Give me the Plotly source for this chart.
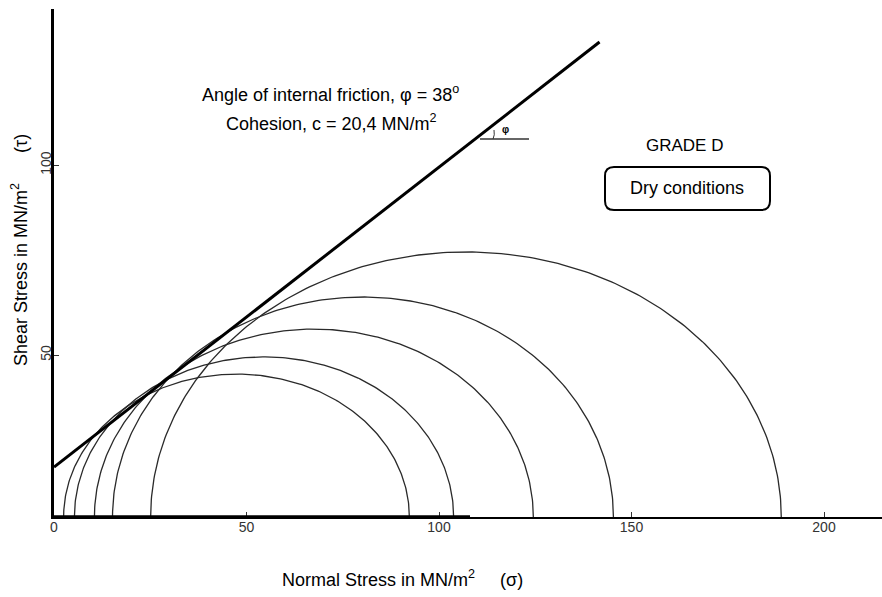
import numpy as np
import plotly.graph_objects as go

# ---- data ----
sigma3 = [2.5, 5.3, 10.5, 15.2, 25.1]          # minor principal stress (MN/m2)
sigma1 = [92.3, 103.8, 124.5, 145.3, 188.9]    # major principal stress (MN/m2)
tau_peak = [44.1, 49.4, 58.0, 67.9, 81.8]      # top of each Mohr circle as drawn

envelope_sigma = [0.0, 141.7]                  # failure envelope end points
envelope_tau = [15.4, 146.6]

x_tick_vals = [0, 50, 100, 150, 200]
x_tick_text = ["0", "50", "100", "150", "200"]
y_tick_vals = [50, 108.6]
y_tick_text = ["50", "100"]

W, H = 882, 597
ML, MR, MT, MB = 54, 0, 9, 80
PW, PH = W - ML - MR, H - MT - MB
XMAX = PW / 3.85
YMAX = PH / 3.24

def px2x(px):
    return (px - ML) / 3.85

def px2y(py):
    return (H - MB - py) / 3.24

def px2px(px):
    return (px - ML) / PW

def py2py(py):
    return (H - MB - py) / PH

fig = go.Figure()

theta = np.linspace(0, np.pi, 240)
for s3, s1, tp in zip(sigma3, sigma1, tau_peak):
    c = (s1 + s3) / 2
    r = (s1 - s3) / 2
    fig.add_trace(go.Scatter(x=c + r * np.cos(theta), y=tp * np.sin(theta),
                             mode="lines", line=dict(color="#2a2a2a", width=1.3),
                             hoverinfo="skip", showlegend=False))

fig.add_trace(go.Scatter(x=envelope_sigma, y=envelope_tau, mode="lines",
                         line=dict(color="black", width=3), hoverinfo="skip",
                         showlegend=False))

# thicker left part of the sigma axis, as in the scan
fig.add_shape(type="line", x0=0, y0=0, x1=px2x(470), y1=0,
              line=dict(color="black", width=3.5))

# angle marker
fig.add_shape(type="line", x0=px2x(480), y0=px2y(139), x1=px2x(529), y1=px2y(139),
              line=dict(color="#333", width=1.3))
fig.add_shape(type="path",
              path=f"M {px2x(493)} {px2y(139)} Q {px2x(495)} {px2y(135)} {px2x(494)} {px2y(130)}",
              line=dict(color="#333", width=1))

# rounded box
x0, x1, y0, y1 = px2x(605), px2x(770), px2y(167), px2y(210)
rx, ry = 9 / 3.85, 9 / 3.24
path = (f"M {x0+rx} {y0} L {x1-rx} {y0} Q {x1} {y0} {x1} {y0-ry} "
        f"L {x1} {y1+ry} Q {x1} {y1} {x1-rx} {y1} L {x0+rx} {y1} "
        f"Q {x0} {y1} {x0} {y1+ry} L {x0} {y0-ry} Q {x0} {y0} {x0+rx} {y0} Z")
fig.add_shape(type="path", path=path, line=dict(color="black", width=2))

font_a = "Liberation Sans, Arial, sans-serif"
font_n = "Liberation Sans Narrow, Arial Narrow, Liberation Sans, sans-serif"

def ann(text, px, py, size, family=font_a, angle=0):
    fig.add_annotation(x=px2px(px), y=py2py(py), xref="paper", yref="paper", text=text,
                       showarrow=False, font=dict(size=size, family=family, color="black"),
                       textangle=angle, xanchor="center", yanchor="middle")

ann("Angle of internal friction, φ = 38<sup>o</sup>", 330, 93, 18)
ann("Cohesion, c = 20,4 MN/m<sup>2</sup>", 331, 122, 18)
ann("<b>φ</b>", 505, 129, 10)
ann("GRADE D", 684, 146, 17)
ann("Dry conditions", 687, 188, 18)
ann("Normal Stress in MN/m<sup>2</sup>     (σ)", 402, 578, 18, font_n)
ann("Shear Stress in MN/m<sup>2</sup>      (τ)", 19, 250, 18, font_n, -90)

fig.update_layout(
    width=W, height=H,
    margin=dict(l=ML, r=MR, t=MT, b=MB, autoexpand=False),
    paper_bgcolor="white", plot_bgcolor="white",
    showlegend=False,
    xaxis=dict(range=[0, XMAX], showgrid=False, zeroline=False, automargin=False,
               showline=True, linecolor="black", linewidth=2,
               tickmode="array", tickvals=x_tick_vals, ticktext=x_tick_text,
               ticks="inside", ticklen=5, tickcolor="#333", tickwidth=1,
               ticklabelstandoff=-4,
               tickfont=dict(size=14, family=font_n, color="#333")),
    yaxis=dict(range=[0, YMAX], showgrid=False, zeroline=False, automargin=False,
               showline=True, linecolor="black", linewidth=3,
               tickmode="array", tickvals=y_tick_vals, ticktext=y_tick_text,
               ticks="inside", ticklen=5, tickcolor="#333", tickwidth=1,
               tickangle=-90, ticklabelstandoff=-6,
               tickfont=dict(size=14, family=font_n, color="#333")),
)

fig.write_html("out.html", config={"displayModeBar": False},
               post_script="document.body.style.margin='0px';document.body.style.overflow='hidden';")
